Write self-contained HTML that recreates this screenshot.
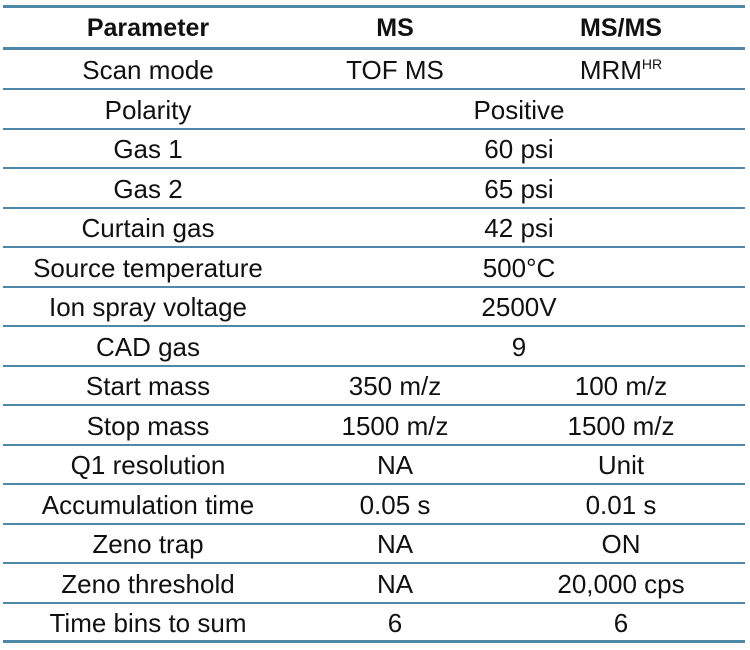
<!DOCTYPE html>
<html><head><meta charset="utf-8"><style>
body{margin:0;width:750px;height:650px;background:#fff;font-family:"Liberation Sans",sans-serif;color:#111;position:relative;overflow:hidden}
.l{position:absolute;left:3px;width:742px;background:#4f87a9}
.r{position:absolute;left:0;width:750px;height:39.5px;font-size:26px;line-height:42px}
.r div{position:absolute;top:0;text-align:center;white-space:nowrap}
.a{left:3px;width:290px}.b{left:293px;width:204px}.c{left:497px;width:248px}.bc{left:293px;width:452px}
.h{font-weight:bold}
sup{font-size:14px;vertical-align:top;line-height:30px}
</style></head><body>
<div class="l" style="top:5px;height:3px"></div>
<div class="l" style="top:47px;height:3px"></div>
<div class="r h" style="top:7px;height:42px;line-height:42px;font-size:25px"><div class="a">Parameter</div><div class="b">MS</div><div class="c">MS/MS</div></div>
<div class="r" style="top:49px"><div class="a">Scan mode</div><div class="b">TOF MS</div><div class="c">MRM<sup>HR</sup></div></div>
<div class="r" style="top:88.5px"><div class="a">Polarity</div><div class="bc">Positive</div></div>
<div class="r" style="top:128px"><div class="a">Gas 1</div><div class="bc">60 psi</div></div>
<div class="r" style="top:167.5px"><div class="a">Gas 2</div><div class="bc">65 psi</div></div>
<div class="r" style="top:207px"><div class="a">Curtain gas</div><div class="bc">42 psi</div></div>
<div class="r" style="top:246.5px"><div class="a">Source temperature</div><div class="bc">500°C</div></div>
<div class="r" style="top:286px"><div class="a">Ion spray voltage</div><div class="bc">2500V</div></div>
<div class="r" style="top:325.5px"><div class="a">CAD gas</div><div class="bc">9</div></div>
<div class="r" style="top:365px"><div class="a">Start mass</div><div class="b">350 m/z</div><div class="c">100 m/z</div></div>
<div class="r" style="top:404.5px"><div class="a">Stop mass</div><div class="b">1500 m/z</div><div class="c">1500 m/z</div></div>
<div class="r" style="top:444px"><div class="a">Q1 resolution</div><div class="b">NA</div><div class="c">Unit</div></div>
<div class="r" style="top:483.5px"><div class="a">Accumulation time</div><div class="b">0.05 s</div><div class="c">0.01 s</div></div>
<div class="r" style="top:523px"><div class="a">Zeno trap</div><div class="b">NA</div><div class="c">ON</div></div>
<div class="r" style="top:562.5px"><div class="a">Zeno threshold</div><div class="b">NA</div><div class="c">20,000 cps</div></div>
<div class="r" style="top:602px"><div class="a">Time bins to sum</div><div class="b">6</div><div class="c">6</div></div>
<div class="l" style="top:88px;height:2px"></div>
<div class="l" style="top:127.5px;height:2px"></div>
<div class="l" style="top:167px;height:2px"></div>
<div class="l" style="top:206.5px;height:2px"></div>
<div class="l" style="top:246px;height:2px"></div>
<div class="l" style="top:285.5px;height:2px"></div>
<div class="l" style="top:325px;height:2px"></div>
<div class="l" style="top:364.5px;height:2px"></div>
<div class="l" style="top:404px;height:2px"></div>
<div class="l" style="top:443.5px;height:2px"></div>
<div class="l" style="top:483px;height:2px"></div>
<div class="l" style="top:522.5px;height:2px"></div>
<div class="l" style="top:562px;height:2px"></div>
<div class="l" style="top:601.5px;height:2px"></div>
<div class="l" style="top:640px;height:3px"></div>
</body></html>
